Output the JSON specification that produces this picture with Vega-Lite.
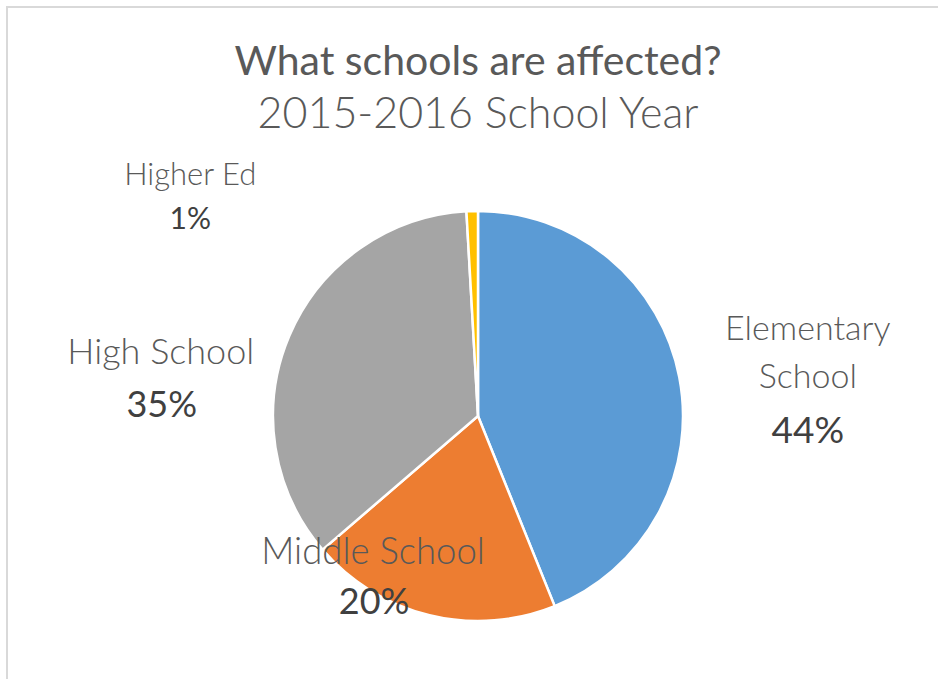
{
  "$schema": "https://vega.github.io/schema/vega-lite/v6.json",
  "autosize": {"type": "none"},
  "width": 942,
  "height": 818,
  "padding": {"left": 7, "top": 7, "right": 0, "bottom": 0},
  "background": "white",
  "view": {"stroke": "#d9d9d9", "strokeWidth": 2},
  "config": {
    "view": {"stroke": "#d9d9d9", "strokeWidth": 2},
    "font": "Lato"
  },
  "title": {
    "text": "What schools are affected?",
    "subtitle": "2015-2016 School Year",
    "anchor": "middle",
    "frame": "group",
    "offset": -131,
    "font": "Lato",
    "fontSize": 41,
    "fontWeight": "normal",
    "color": "#595959",
    "subtitleFont": "Lato",
    "subtitleFontSize": 43,
    "subtitleFontWeight": 300,
    "subtitleColor": "#595959",
    "subtitlePadding": 10
  },
  "data": {
    "values": [
      {"category": "Elementary School", "share": 0.439, "rank": 1},
      {"category": "Middle School", "share": 0.198, "rank": 2},
      {"category": "High School", "share": 0.354, "rank": 3},
      {"category": "Higher Ed", "share": 0.009, "rank": 4}
    ]
  },
  "encoding": {
    "theta": {"field": "share", "type": "quantitative", "stack": true},
    "order": {"field": "rank", "type": "quantitative"}
  },
  "layer": [
    {
      "mark": {"type": "arc", "outerRadius": 205, "stroke": "white", "strokeWidth": 2.5},
      "encoding": {
        "color": {
          "field": "category",
          "type": "nominal",
          "scale": {
            "domain": ["Elementary School", "Middle School", "High School", "Higher Ed"],
            "range": ["#5b9bd5", "#ed7d31", "#a5a5a5", "#ffc000"]
          },
          "legend": null
        }
      }
    },
    {
      "mark": {"type": "text", "radius": 336, "dy": -22, "lineBreak": " ", "lineHeight": 48, "fontSize": 34, "fontWeight": 300, "color": "#595959", "align": "center", "baseline": "middle"},
      "encoding": {
        "text": {"condition": {"test": "datum.category === 'Elementary School'", "field": "category", "type": "nominal"}, "value": ""}
      }
    },
    {
      "mark": {"type": "text", "radius": 336, "dy": 80, "fontSize": 37, "fontWeight": "normal", "color": "#404040", "align": "center", "baseline": "middle"},
      "encoding": {
        "text": {"condition": {"test": "datum.category === 'Elementary School'", "field": "share", "type": "quantitative", "format": ".0%"}, "value": ""}
      }
    },
    {
      "mark": {"type": "text", "radius": 173, "dx": -64, "dy": -31, "fontSize": 36.5, "fontWeight": 300, "color": "#595959", "align": "center", "baseline": "middle"},
      "encoding": {
        "text": {"condition": {"test": "datum.category === 'Middle School'", "field": "category", "type": "nominal"}, "value": ""}
      }
    },
    {
      "mark": {"type": "text", "radius": 173, "dx": -63, "dy": 19, "fontSize": 36, "fontWeight": "normal", "color": "#404040", "align": "center", "baseline": "middle"},
      "encoding": {
        "text": {"condition": {"test": "datum.category === 'Middle School'", "field": "share", "type": "quantitative", "format": ".0%"}, "value": ""}
      }
    },
    {
      "mark": {"type": "text", "radius": 323, "dx": -20, "dy": 63, "fontSize": 36, "fontWeight": 300, "color": "#595959", "align": "center", "baseline": "middle"},
      "encoding": {
        "text": {"condition": {"test": "datum.category === 'High School'", "field": "category", "type": "nominal"}, "value": ""}
      }
    },
    {
      "mark": {"type": "text", "radius": 323, "dx": -19, "dy": 116, "fontSize": 36, "fontWeight": "normal", "color": "#404040", "align": "center", "baseline": "middle"},
      "encoding": {
        "text": {"condition": {"test": "datum.category === 'High School'", "field": "share", "type": "quantitative", "format": ".0%"}, "value": ""}
      }
    },
    {
      "mark": {"type": "text", "radius": 240, "dx": -281, "dy": 0, "fontSize": 31, "fontWeight": 300, "color": "#595959", "align": "center", "baseline": "middle"},
      "encoding": {
        "text": {"condition": {"test": "datum.category === 'Higher Ed'", "field": "category", "type": "nominal"}, "value": ""}
      }
    },
    {
      "mark": {"type": "text", "radius": 240, "dx": -281, "dy": 44, "fontSize": 30, "fontWeight": "normal", "color": "#404040", "align": "center", "baseline": "middle"},
      "encoding": {
        "text": {"condition": {"test": "datum.category === 'Higher Ed'", "field": "share", "type": "quantitative", "format": ".0%"}, "value": ""}
      }
    }
  ]
}
